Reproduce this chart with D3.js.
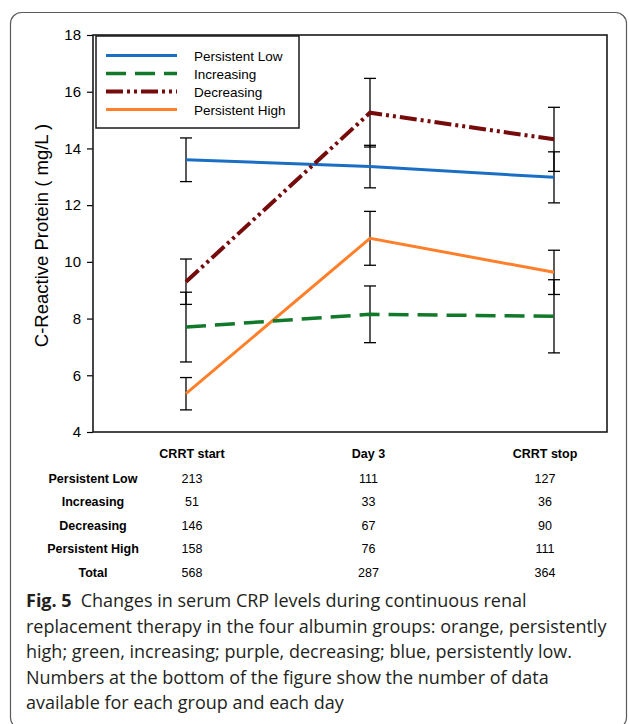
<!DOCTYPE html>
<html>
<head>
    <meta charset="utf-8">
    <title>CRP levels during CRRT</title>
    <script src="https://d3js.org/d3.v7.min.js"></script>
    <style>
        body { margin: 0; background: #fff; }
        .chart-text { font-family: "Liberation Sans", Arial, sans-serif; fill: #000; }
        .caption { font-family: "Open Sans", "Noto Sans", sans-serif; fill: #231f20; }
    </style>
</head>
<body>
    <div id="chart"></div>

    <script>
        // 数据
        const categories = ["CRRT start", "Day 3", "CRRT stop"];
        const seriesNames = ["Persistent Low", "Increasing", "Decreasing", "Persistent High"];
        const persistentLow = [13.60, 13.36, 12.98];
        const persistentLowErr = [0.77, 0.75, 0.90];
        const increasing = [7.70, 8.15, 8.08];
        const increasingErr = [1.23, 1.00, 1.29];
        const decreasing = [9.30, 15.26, 14.32];
        const decreasingErr = [0.80, 1.21, 1.13];
        const persistentHigh = [5.35, 10.83, 9.63];
        const persistentHighErr = [0.57, 0.95, 0.78];
        const yTicks = [4, 6, 8, 10, 12, 14, 16, 18];

        // 每组每天的数据量
        const tableRows = ["Persistent Low", "Increasing", "Decreasing", "Persistent High", "Total"];
        const countLow = [213, 111, 127];
        const countIncreasing = [51, 33, 36];
        const countDecreasing = [146, 67, 90];
        const countHigh = [158, 76, 111];
        const countTotal = [568, 287, 364];

        const captionLines = [
            "Changes in serum CRP levels during continuous renal",
            "replacement therapy in the four albumin groups: orange, persistently",
            "high; green, increasing; purple, decreasing; blue, persistently low.",
            "Numbers at the bottom of the figure show the number of data",
            "available for each group and each day"
        ];

        const series = [
            {name: seriesNames[0], values: persistentLow, err: persistentLowErr, color: "#1a6fc4", width: 3, dash: null},
            {name: seriesNames[1], values: increasing, err: increasingErr, color: "#12782a", width: 3.5, dash: "20,9"},
            {name: seriesNames[2], values: decreasing, err: decreasingErr, color: "#760b0b", width: 4, dash: "17,4,3,4,3,4"},
            {name: seriesNames[3], values: persistentHigh, err: persistentHighErr, color: "#ff7f2a", width: 3, dash: null}
        ];
        const counts = [countLow, countIncreasing, countDecreasing, countHigh, countTotal];

        const W = 629, H = 724;
        const plot = {left: 93, top: 35, right: 607, bottom: 432};

        const svg = d3.select("#chart")
            .append("svg")
            .attr("width", W)
            .attr("height", H);

        // 外框
        svg.append("rect")
            .attr("x", 10.5)
            .attr("y", 12.5)
            .attr("width", 616)
            .attr("height", 716)
            .attr("rx", 11)
            .attr("fill", "none")
            .attr("stroke", "#5a5a5a")
            .attr("stroke-width", 1.2);

        // 比例尺
        const x = d3.scalePoint()
            .domain(categories)
            .range([186, 554]);

        const y = d3.scaleLinear()
            .domain([4, 18])
            .range([plot.bottom, plot.top]);

        // y轴
        const yAxis = svg.append("g")
            .attr("transform", `translate(${plot.left},0)`)
            .call(d3.axisLeft(y).tickValues(yTicks).tickSize(6).tickPadding(6).tickSizeOuter(0));
        yAxis.select(".domain").remove();
        yAxis.selectAll(".tick line").attr("stroke", "#000").attr("stroke-width", 1.2);
        yAxis.selectAll(".tick text")
            .attr("class", "chart-text")
            .style("font-size", "15px")
            .style("font-family", "Liberation Sans, Arial, sans-serif");

        // 绘图区边框
        svg.append("rect")
            .attr("x", plot.left)
            .attr("y", plot.top)
            .attr("width", plot.right - plot.left)
            .attr("height", plot.bottom - plot.top)
            .attr("fill", "none")
            .attr("stroke", "#1a1a1a")
            .attr("stroke-width", 1.6);

        // y轴标签
        svg.append("text")
            .attr("class", "chart-text")
            .attr("transform", `translate(48,${(plot.top + plot.bottom) / 2 + 2}) rotate(-90)`)
            .attr("text-anchor", "middle")
            .style("font-size", "18.5px")
            .text("C-Reactive Protein ( mg/L )");

        // 误差棒
        series.forEach(s => {
            const g = svg.append("g");
            categories.forEach((c, i) => {
                const cx = x(c);
                const hi = y(s.values[i] + s.err[i]);
                const lo = y(s.values[i] - s.err[i]);
                g.append("line").attr("x1", cx).attr("x2", cx).attr("y1", hi).attr("y2", lo);
                g.append("line").attr("x1", cx - 6).attr("x2", cx + 6).attr("y1", hi).attr("y2", hi);
                g.append("line").attr("x1", cx - 6).attr("x2", cx + 6).attr("y1", lo).attr("y2", lo);
            });
            g.selectAll("line").attr("stroke", "#000").attr("stroke-width", 1.3);
        });

        // 折线
        const line = d3.line()
            .x((d, i) => x(categories[i]))
            .y(d => y(d));

        const drawOrder = [series[3], series[1], series[0], series[2]];
        drawOrder.forEach(s => {
            svg.append("path")
                .datum(s.values)
                .attr("fill", "none")
                .attr("stroke", s.color)
                .attr("stroke-width", s.width)
                .attr("stroke-dasharray", s.dash)
                .attr("d", line);
        });

        // 图例
        const legend = svg.append("g");
        legend.append("rect")
            .attr("x", 96)
            .attr("y", 36)
            .attr("width", 203)
            .attr("height", 92)
            .attr("fill", "#fff")
            .attr("stroke", "#1a1a1a")
            .attr("stroke-width", 1.5);

        series.forEach((s, i) => {
            const ly = 55.5 + i * 18;
            legend.append("line")
                .attr("x1", 106)
                .attr("x2", 177)
                .attr("y1", ly)
                .attr("y2", ly)
                .attr("stroke", s.color)
                .attr("stroke-width", s.width)
                .attr("stroke-dasharray", s.dash);
            legend.append("text")
                .attr("class", "chart-text")
                .attr("x", 194)
                .attr("y", ly + 5)
                .style("font-size", "13.5px")
                .text(s.name);
        });

        // 数据量表格
        const tx = d3.scalePoint()
            .domain(categories)
            .range([192, 545]);

        const table = svg.append("g");
        table.selectAll(".col-head")
            .data(categories)
            .enter()
            .append("text")
            .attr("class", "chart-text")
            .attr("x", d => tx(d))
            .attr("y", 458)
            .attr("text-anchor", "middle")
            .style("font-size", "12.5px")
            .style("font-weight", "bold")
            .text(d => d);

        tableRows.forEach((r, ri) => {
            const ry = 482.5 + ri * 23.5;
            table.append("text")
                .attr("class", "chart-text")
                .attr("x", 93)
                .attr("y", ry)
                .attr("text-anchor", "middle")
                .style("font-size", "12.5px")
                .style("font-weight", "bold")
                .text(r);
            table.selectAll(null)
                .data(counts[ri])
                .enter()
                .append("text")
                .attr("class", "chart-text")
                .attr("x", (d, i) => tx(categories[i]))
                .attr("y", ry)
                .attr("text-anchor", "middle")
                .style("font-size", "12.5px")
                .text(d => d);
        });

        // 图注
        const caption = svg.append("g");
        captionLines.forEach((t, i) => {
            const txt = caption.append("text")
                .attr("class", "caption")
                .attr("x", 26)
                .attr("y", 607 + i * 25.6)
                .style("font-size", "18px");
            if (i === 0) {
                txt.append("tspan").style("font-weight", "bold").text("Fig. 5");
                txt.append("tspan").text("\u2002" + t);
            } else {
                txt.text(t);
            }
        });
    </script>
</body>
</html>
